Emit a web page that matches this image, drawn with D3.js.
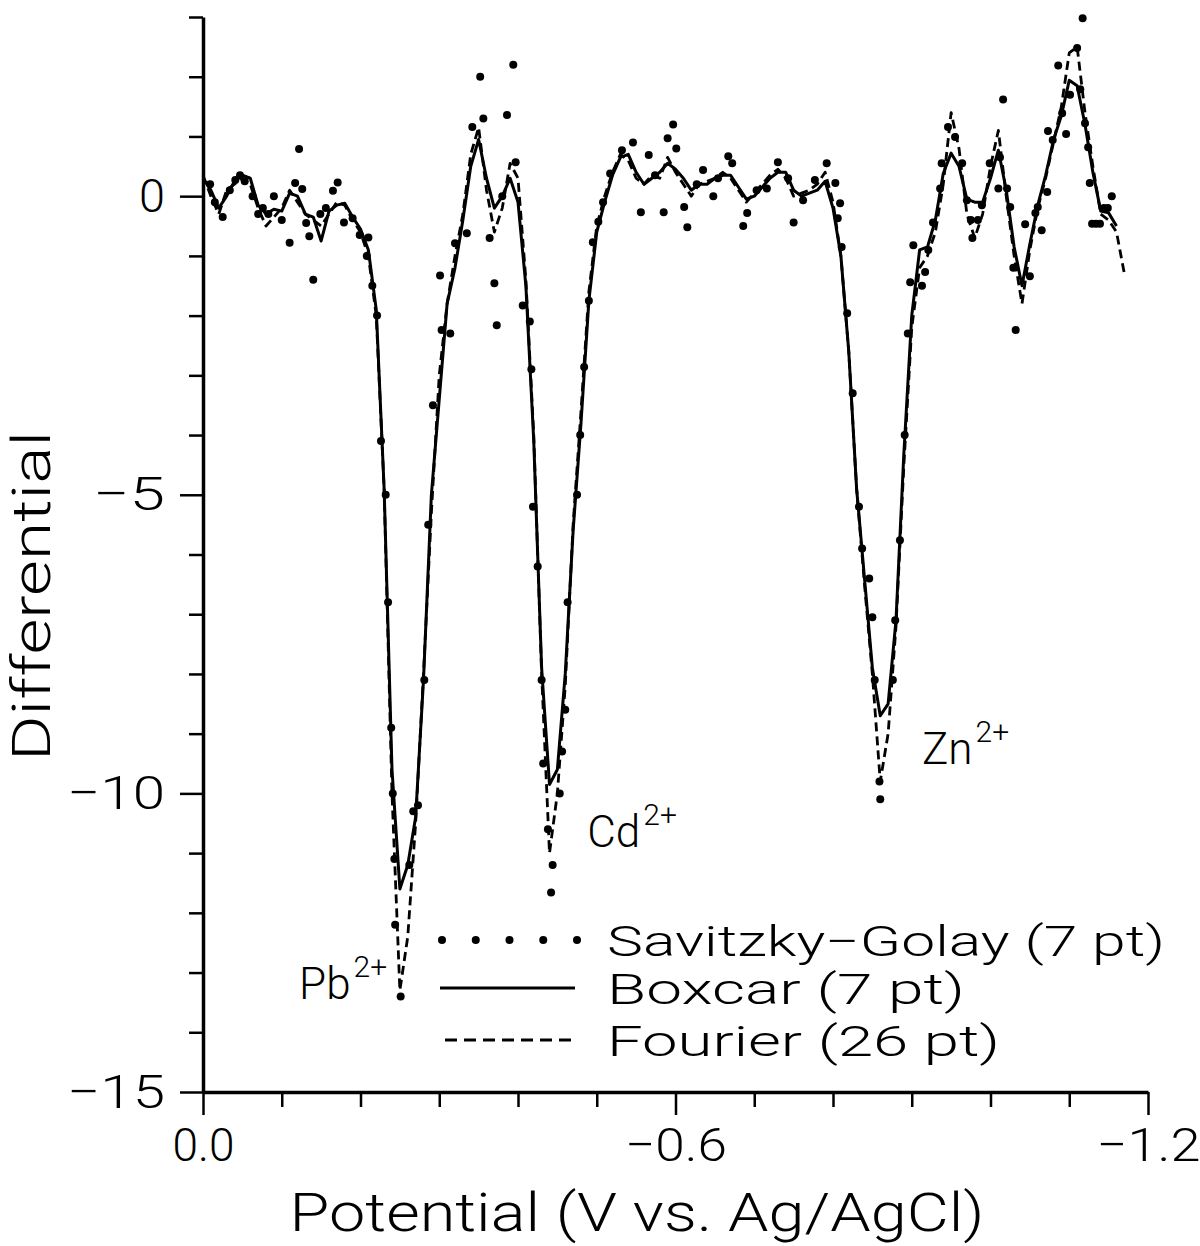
<!DOCTYPE html>
<html>
<head>
<meta charset="utf-8">
<script src="https://cdn.jsdelivr.net/npm/d3@7/dist/d3.min.js"></script>
<style>
  html, body { margin: 0; padding: 0; background: #fff; }
  svg text { font-family: Roboto, "DejaVu Sans", sans-serif; font-weight: 300; fill: #000; }
</style>
</head>
<body>
<svg id="chart" width="1200" height="1246"></svg>
<script>
// Potential grid (V vs. Ag/AgCl) shared by the smoothed traces
const potential = [
  0, -0.01, -0.02, -0.03, -0.04, -0.05, -0.06, -0.07, -0.08, -0.09,
  -0.10, -0.11, -0.12, -0.13, -0.14, -0.15, -0.16, -0.17, -0.18, -0.19,
  -0.20, -0.21, -0.22, -0.23, -0.24, -0.25, -0.26, -0.27, -0.28, -0.29,
  -0.30, -0.31, -0.32, -0.33, -0.34, -0.35, -0.36, -0.37, -0.38, -0.39,
  -0.40, -0.41, -0.42, -0.43, -0.44, -0.45, -0.46, -0.47, -0.48, -0.49,
  -0.50, -0.51, -0.52, -0.53, -0.54, -0.55, -0.56, -0.57, -0.58, -0.59,
  -0.60, -0.61, -0.62, -0.63, -0.64, -0.65, -0.66, -0.67, -0.68, -0.69,
  -0.70, -0.71, -0.72, -0.73, -0.74, -0.75, -0.76, -0.77, -0.78, -0.79,
  -0.80, -0.81, -0.82, -0.83, -0.84, -0.85, -0.86, -0.87, -0.88, -0.89,
  -0.90, -0.91, -0.92, -0.93, -0.94, -0.95, -0.96, -0.97, -0.98, -0.99,
  -1.00, -1.01, -1.02, -1.03, -1.04, -1.05, -1.06, -1.07, -1.08, -1.09,
  -1.10, -1.11, -1.12, -1.13, -1.14, -1.15, -1.16, -1.17
];

// Boxcar (7 pt) smoothed differential
const boxcar = [
  0.3, 0.1, -0.2, 0.0, 0.25, 0.35, 0.3, -0.15, -0.3, -0.22,
  -0.25, 0.05, 0.0, -0.3, -0.35, -0.75, -0.25, -0.15, -0.12, -0.35,
  -0.55, -0.9, -1.9, -4.9, -9.6, -11.6, -11.2, -10.4, -8.1, -5.0,
  -3.4, -1.8, -1.2, -0.4, 0.5, 0.95, 0.3, -0.2, 0.0, 0.3,
  -0.1, -1.5, -4.1, -7.9, -9.85, -9.6, -8.0, -5.6, -3.8, -1.75,
  -0.6, -0.1, 0.35, 0.65, 0.7, 0.4, 0.2, 0.3, 0.4, 0.55,
  0.45, 0.3, 0.1, 0.2, 0.2, 0.3, 0.35, 0.35, 0.15, -0.05,
  0.0, 0.15, 0.3, 0.4, 0.4, 0.1, 0.0, 0.05, 0.1, 0.25,
  -0.2, -1.0, -2.6, -4.9, -6.4, -7.9, -8.7, -8.5, -7.1, -4.3,
  -2.0, -0.9, -0.85, -0.4, 0.38, 0.72, 0.5, -0.05, -0.1, -0.1,
  0.3, 0.77, 0.1, -0.85, -1.5, -0.8, -0.15, 0.35, 0.94, 1.35,
  1.94, 1.85, 1.2, 0.4, -0.25, -0.28, -0.5, null
];

// Fourier (26 pt) filtered differential
const fourier = [
  0.35, 0.0, -0.3, 0.1, 0.2, 0.3, 0.2, -0.2, -0.5, -0.35,
  -0.2, 0.1, -0.1, -0.3, -0.4, -0.5, -0.3, -0.1, -0.15, -0.4,
  -0.6, -1.0, -2.0, -4.9, -10.0, -13.3, -12.4, -10.5, -8.0, -5.3,
  -3.0, -1.8, -1.0, -0.3, 0.7, 1.15, 0.1, -0.6, -0.2, 0.55,
  0.3, -1.4, -4.0, -8.0, -11.0, -10.0, -8.2, -5.5, -3.6, -1.6,
  -0.5, 0.0, 0.4, 0.7, 0.6, 0.3, 0.2, 0.35, 0.3, 0.65,
  0.4, 0.2, 0.0, 0.2, 0.25, 0.3, 0.4, 0.3, 0.1, -0.1,
  0.05, 0.2, 0.35, 0.45, 0.3, 0.0, 0.05, 0.1, 0.2, 0.4,
  -0.1, -1.0, -2.6, -4.9, -6.5, -8.0, -9.8, -9.0, -7.2, -4.5,
  -2.2, -1.2, -1.0, -0.6, 0.2, 1.4, 0.8, -0.3, -0.7, -0.3,
  0.5, 1.1, 0.0, -1.0, -1.8, -0.9, -0.2, 0.3, 0.9, 1.5,
  2.4, 2.5, 1.4, 0.5, -0.3, -0.4, -0.6, -1.3
];

// Savitzky-Golay (7 pt) smoothed points
const sgPotential = [
  -0.009, -0.015, -0.025, -0.034, -0.041, -0.047, -0.053, -0.063, -0.070, -0.076,
  -0.083, -0.090, -0.100, -0.110, -0.117, -0.122, -0.126, -0.131, -0.135, -0.140,
  -0.149, -0.156, -0.165, -0.171, -0.179, -0.190, -0.199, -0.208, -0.210, -0.215,
  -0.221, -0.226, -0.232, -0.235, -0.239, -0.241, -0.243, -0.244, -0.251, -0.262,
  -0.267, -0.273, -0.281, -0.286, -0.292, -0.301, -0.303, -0.314, -0.320, -0.335,
  -0.342, -0.352, -0.356, -0.364, -0.370, -0.373, -0.380, -0.386, -0.394, -0.397,
  -0.406, -0.415, -0.417, -0.419, -0.425, -0.430, -0.432, -0.438, -0.442, -0.444,
  -0.453, -0.456, -0.460, -0.463, -0.475, -0.479, -0.484, -0.490, -0.495, -0.502,
  -0.508, -0.517, -0.532, -0.546, -0.556, -0.566, -0.574, -0.585, -0.590, -0.597,
  -0.601, -0.611, -0.615, -0.627, -0.635, -0.648, -0.654, -0.667, -0.672, -0.686,
  -0.691, -0.703, -0.716, -0.730, -0.743, -0.750, -0.762, -0.777, -0.792, -0.803,
  -0.806, -0.809, -0.811, -0.818, -0.825, -0.833, -0.837, -0.846, -0.850, -0.853,
  -0.859, -0.860, -0.876, -0.879, -0.885, -0.891, -0.895, -0.898, -0.902, -0.913,
  -0.917, -0.921, -0.927, -0.936, -0.938, -0.946, -0.955, -0.964, -0.970, -0.975,
  -0.977, -0.984, -0.989, -0.999, -1.010, -1.012, -1.016, -1.021, -1.025, -1.029,
  -1.032, -1.044, -1.050, -1.057, -1.060, -1.065, -1.072, -1.073, -1.079, -1.086,
  -1.091, -1.096, -1.101, -1.110, -1.114, -1.117, -1.120, -1.124, -1.126, -1.129,
  -1.134, -1.139, -1.144, -1.149, -1.154
];
const sgValue = [
  0.2, -0.1, -0.35, 0.1, 0.27, 0.35, 0.25, 0.0, -0.3, -0.2,
  -0.3, 0.0, -0.4, -0.78, 0.22, 0.79, 0.12, -0.45, -0.67, -1.4,
  -0.3, -0.2, 0.09, 0.23, -0.44, -0.37, -0.65, -1.0, -0.69, -1.5,
  -2.0, -4.1, -5.0, -6.8, -8.9, -10.0, -11.1, -12.2, -13.4, -11.2,
  -10.3, -10.2, -8.1, -5.5, -3.5, -1.33, -2.24, -2.3, -0.79, -0.62,
  1.16, 2.0, 1.3, -0.7, -1.46, -2.16, 0.0, 1.36, 2.2, 0.57,
  -1.83, -2.1, -2.9, -5.2, -6.2, -8.1, -9.5, -10.6, -11.66, -11.2,
  -10.0, -9.3, -8.6, -6.8, -5.0, -4.0, -2.86, -1.75, -0.77, -0.43,
  -0.1, 0.38, 0.77, 0.9, -0.27, 0.69, 0.35, -0.27, 0.97, 1.2,
  0.8, -0.18, -0.52, 0.2, 0.44, 0.0, 0.3, 0.67, 0.55, -0.5,
  -0.28, 0.1, 0.13, 0.57, 0.3, -0.44, -0.07, 0.27, 0.55, 0.22,
  -0.37, -0.12, -0.85, -1.96, -3.3, -5.2, -5.9, -6.4, -7.05, -8.1,
  -9.8, -10.1, -8.1, -7.1, -5.76, -4.0, -2.3, -1.44, -0.82, -1.5,
  -1.27, -0.9, -0.44, 0.13, 0.55, 1.16, 0.99, 0.55, -0.07, -0.4,
  -0.7, -0.4, -0.15, 0.55, 0.13, 0.65, 1.62, 0.13, -0.18, -1.2,
  -2.24, -0.47, -1.34, -0.28, -0.18, -0.57, 0.07, 1.09, 0.94, 2.19,
  1.39, 1.04, 1.7, 2.48, 1.79, 2.98, 1.22, 0.82, 0.22, -0.46,
  -0.46, -0.46, -0.2, -0.2, 0.0
];

// Axis ticks
const xMajorTicks = [0, -0.6, -1.2];
const xMinorTicks = [-0.1, -0.2, -0.3, -0.4, -0.5, -0.7, -0.8, -0.9, -1.0, -1.1];
const yMajorTicks = [0, -5, -10, -15];
const yMinorTicks = [3, 2, 1, -1, -2, -3, -4, -6, -7, -8, -9, -11, -12, -13, -14];

// Peak labels
const peakIons = [
  { base: "Pb", charge: "2+", potential: -0.122, value: -13.45 },
  { base: "Cd", charge: "2+", potential: -0.488, value: -10.9 },
  { base: "Zn", charge: "2+", potential: -0.913, value: -9.5 }
];

// Legend entries
const legendLabels = ["Savitzky\u2212Golay (7 pt)", "Boxcar (7 pt)", "Fourier (26 pt)"];

const svg = d3.select("#chart");
svg.append("rect").attr("width", 1200).attr("height", 1246).attr("fill", "#fff");

const x = d3.scaleLinear().domain([0, -1.2]).range([203, 1148]);
const y = d3.scaleLinear().domain([-15, 3]).range([1092, 17]);

const fmtX = d => d === 0 ? "0.0" : "\u2212" + Math.abs(d).toFixed(1);
const fmtY = d => d < 0 ? "\u2212" + Math.abs(d) : String(d);

// Left axis: minor ticks, then major ticks with labels
const gy = svg.append("g").attr("transform", `translate(${x(0)},0)`);
gy.call(d3.axisLeft(y).tickValues(yMinorTicks).tickSize(14).tickSizeOuter(0).tickFormat(""));
const gy2 = svg.append("g").attr("transform", `translate(${x(0)},0)`);
gy2.call(d3.axisLeft(y).tickValues(yMajorTicks).tickSize(23).tickSizeOuter(0).tickPadding(15).tickFormat(fmtY));
gy2.select(".domain").remove();

// Bottom axis
const gx = svg.append("g").attr("transform", `translate(0,${y(-15)})`);
gx.call(d3.axisBottom(x).tickValues(xMinorTicks).tickSize(15).tickSizeOuter(0).tickFormat(""));
const gx2 = svg.append("g").attr("transform", `translate(0,${y(-15)})`);
gx2.call(d3.axisBottom(x).tickValues(xMajorTicks).tickSize(23).tickSizeOuter(0).tickPadding(13).tickFormat(fmtX));
gx2.select(".domain").remove();

svg.selectAll(".domain").attr("stroke", "#000").attr("stroke-width", 3.5);
svg.selectAll(".tick line").attr("stroke", "#000").attr("stroke-width", 2.5);

// Tick labels: tall, narrow lettering
const yLabelWidth = { "0": 26, "\u22125": 72, "\u221210": 98, "\u221215": 98 };
gy2.selectAll(".tick text")
  .attr("font-size", 47)
  .attr("textLength", function () { return yLabelWidth[this.textContent]; })
  .attr("lengthAdjust", "spacingAndGlyphs")
  .style("font-family", "Roboto, sans-serif").style("font-weight", 300);
const xLabelWidth = { "0.0": 62, "\u22120.6": 102, "\u22121.2": 104 };
gx2.selectAll(".tick text")
  .attr("font-size", 47)
  .attr("textLength", function () { return xLabelWidth[this.textContent]; })
  .attr("lengthAdjust", "spacingAndGlyphs")
  .style("font-family", "Roboto, sans-serif").style("font-weight", 300);

// Axis titles
svg.append("text")
  .attr("transform", "translate(50,596) rotate(-90)")
  .attr("text-anchor", "middle")
  .attr("font-size", 54)
  .attr("textLength", 330).attr("lengthAdjust", "spacingAndGlyphs")
  .text("Differential");

svg.append("text")
  .attr("x", 637).attr("y", 1231)
  .attr("text-anchor", "middle")
  .attr("font-size", 54)
  .attr("textLength", 695).attr("lengthAdjust", "spacingAndGlyphs")
  .text("Potential (V vs. Ag/AgCl)");

// Traces
const traceRows = potential.map((p, i) => ({ p, b: boxcar[i], f: fourier[i] }));

const boxLine = d3.line()
  .defined(d => d.b !== null)
  .x(d => x(d.p)).y(d => y(d.b));
const fourLine = d3.line()
  .defined(d => d.f !== null)
  .x(d => x(d.p)).y(d => y(d.f));

svg.append("path").datum(traceRows)
  .attr("d", fourLine)
  .attr("fill", "none").attr("stroke", "#000").attr("stroke-width", 2.8)
  .attr("stroke-dasharray", "9,5").attr("stroke-linejoin", "round");

svg.append("path").datum(traceRows)
  .attr("d", boxLine)
  .attr("fill", "none").attr("stroke", "#000").attr("stroke-width", 3)
  .attr("stroke-linejoin", "round");

svg.append("g").selectAll("circle")
  .data(sgPotential.map((p, i) => ({ p, v: sgValue[i] })))
  .join("circle")
  .attr("cx", d => x(d.p)).attr("cy", d => y(d.v))
  .attr("r", 4).attr("fill", "#000");

// Peak labels with superscript charge
const ionG = svg.append("g");
peakIons.forEach(ion => {
  const t = ionG.append("text")
    .attr("x", x(ion.potential)).attr("y", y(ion.value))
    .attr("font-size", 44);
  t.append("tspan").text(ion.base);
  t.append("tspan").attr("dy", -22).attr("dx", 3).attr("font-size", 30).text(ion.charge);
});

// Legend
const legend = svg.append("g").attr("transform", "translate(442,0)");
const rowY = [940, 988, 1040];
legend.selectAll("circle.key")
  .data(d3.range(5))
  .join("circle")
  .attr("class", "key")
  .attr("cx", d => d * 33.75).attr("cy", rowY[0]).attr("r", 4).attr("fill", "#000");
legend.append("line")
  .attr("x1", -2).attr("x2", 133).attr("y1", rowY[1]).attr("y2", rowY[1])
  .attr("stroke", "#000").attr("stroke-width", 3);
legend.append("line")
  .attr("x1", 3).attr("x2", 133).attr("y1", rowY[2]).attr("y2", rowY[2])
  .attr("stroke", "#000").attr("stroke-width", 2.8).attr("stroke-dasharray", "12,7");

const legendWidths = [558, 358, 393];
legend.selectAll("text.label")
  .data(legendLabels)
  .join("text")
  .attr("class", "label")
  .attr("x", 165)
  .attr("y", (d, i) => rowY[i] + 16)
  .attr("font-size", 42)
  .attr("textLength", (d, i) => legendWidths[i])
  .attr("lengthAdjust", "spacingAndGlyphs")
  .text(d => d);
</script>
</body>
</html>
